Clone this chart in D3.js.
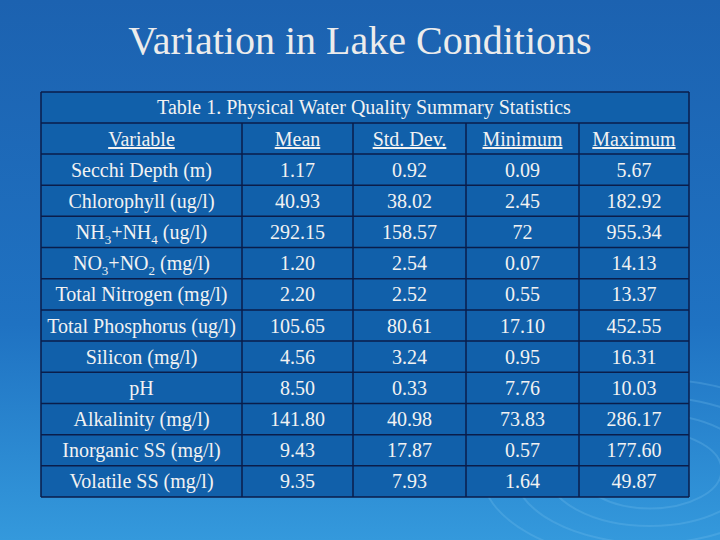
<!DOCTYPE html>
<html><head><meta charset="utf-8">
<script src="https://cdn.jsdelivr.net/npm/d3@7"></script>
<style>body{margin:0;}svg{display:block;}</style>
</head><body>
<script>
const title = "Variation in Lake Conditions";
const tableTitle = "Table 1. Physical Water Quality Summary Statistics";
const columns = ["Variable","Mean","Std. Dev.","Minimum","Maximum"];
const variables = ["Secchi Depth (m)","Chlorophyll (ug/l)","NH3+NH4 (ug/l)","NO3+NO2 (mg/l)","Total Nitrogen (mg/l)","Total Phosphorus (ug/l)","Silicon (mg/l)","pH","Alkalinity (mg/l)","Inorganic SS (mg/l)","Volatile SS (mg/l)"];
const means = ["1.17","40.93","292.15","1.20","2.20","105.65","4.56","8.50","141.80","9.43","9.35"];
const stdDevs = ["0.92","38.02","158.57","2.54","2.52","80.61","3.24","0.33","40.98","17.87","7.93"];
const minimums = ["0.09","2.45","72","0.07","0.55","17.10","0.95","7.76","73.83","0.57","1.64"];
const maximums = ["5.67","182.92","955.34","14.13","13.37","452.55","16.31","10.03","286.17","177.60","49.87"];

const FF="'Times New Roman', 'Liberation Serif', Times, serif";
const W=720,H=540;
const svg=d3.select("body").append("svg").attr("width",W).attr("height",H).style("font-family",FF);
const defs=svg.append("defs");
const g=defs.append("linearGradient").attr("id","bg").attr("x1",0).attr("y1",0).attr("x2",0).attr("y2",1);
g.append("stop").attr("offset","0%").attr("stop-color","#1c62b0");
g.append("stop").attr("offset","60%").attr("stop-color","#1f72c2");
g.append("stop").attr("offset","100%").attr("stop-color","#3499dc");
svg.append("rect").attr("width",W).attr("height",H).attr("fill","url(#bg)");
[30,55,80,105,130].forEach(r=>svg.append("ellipse").attr("cx",650).attr("cy",470).attr("rx",r*1.3).attr("ry",r*0.7)
 .attr("fill","none").attr("stroke","#7cc4f0").attr("stroke-opacity",0.25).attr("stroke-width",2));

svg.append("text").attr("x",360).attr("y",54).attr("text-anchor","middle").style("font-family",FF)
 .attr("font-size",40).attr("fill","#ececec").text(title);

const colEdges=[41,242,353,466,579,689];
const tTop=92, titleH=31;
const y=d3.scaleBand().domain(d3.range(variables.length)).range([154,497]);
const tb=svg.append("g");
tb.append("rect").attr("x",41).attr("y",tTop).attr("width",648).attr("height",497-tTop).attr("fill","#1160aa");
function txt(xx,yy,s){return tb.append("text").attr("x",xx).attr("y",yy).attr("text-anchor","middle").style("font-family",FF)
 .attr("font-size",20).attr("fill","#f2f2f2").text(s);}
txt(364,tTop+22,tableTitle);
const rows=variables.map((v,i)=>[v,means[i],stdDevs[i],minimums[i],maximums[i]]);
columns.forEach((c,j)=>{const cx=(colEdges[j]+colEdges[j+1])/2;
 txt(cx,tTop+titleH+23,c).attr("text-decoration","underline");});
function sub(t,s){
 const m=s.match(/^(NH|NO)(\d)\+(NH|NO)(\d)(.*)$/);
 if(m){t.text(null);t.append("tspan").text(m[1]);t.append("tspan").attr("font-size",13).attr("dy",5).text(m[2]);
  t.append("tspan").attr("dy",-5).text("+"+m[3]);t.append("tspan").attr("font-size",13).attr("dy",5).text(m[4]);
  t.append("tspan").attr("dy",-5).text(m[5]);}}
rows.forEach((r,i)=>{r.forEach((v,j)=>{const cx=(colEdges[j]+colEdges[j+1])/2;
 const t=txt(cx,y(i)+y.bandwidth()/2+7,v);sub(t,v);});});
function line(x1,y1,x2,y2){tb.append("line").attr("x1",x1).attr("y1",y1).attr("x2",x2).attr("y2",y2).attr("stroke","#0a1d4a").attr("stroke-width",1.5);}
[tTop,tTop+titleH,154].concat(variables.map((d,i)=>y(i)+y.bandwidth())).forEach(yy=>line(41,yy,689,yy));
colEdges.forEach((xx,j)=>line(xx,(j==0||j==5)?tTop:tTop+titleH,xx,497));
</script>
</body></html>
